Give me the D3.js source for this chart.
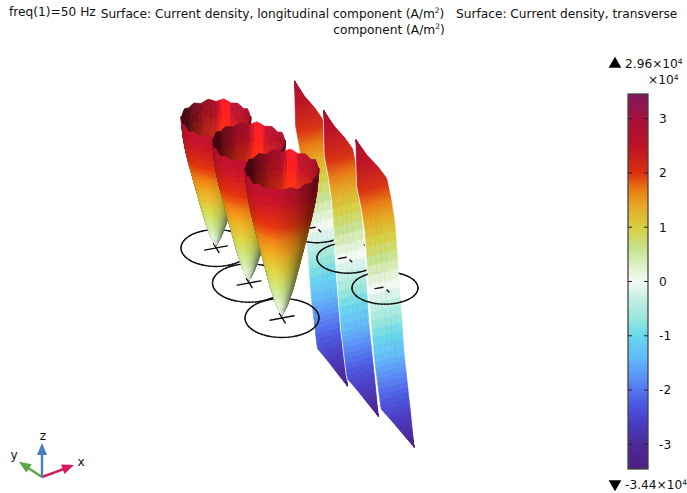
<!DOCTYPE html>
<html><head><meta charset="utf-8">
<script src="https://cdn.jsdelivr.net/npm/d3@7"></script>
<style>html,body{margin:0;background:#fff}svg{display:block}text{font-family:"DejaVu Sans";fill:#111;white-space:pre}</style>
</head><body><svg id="c" width="687" height="493"></svg>
<script>
// ---- values ----
const titleLeft = "freq(1)=50 Hz";
const colorValues = [3.44,3.0,2.5,2.0,1.7,1.4,1.0,0.6,0.25,0,-0.3,-0.7,-1.0,-1.4,-1.8,-2.2,-2.6,-3.0,-3.44];
const colorHexes = ["#7d1a5c","#a5103c","#bb1225","#d9300f","#e87a14","#e6a822","#d6cf42","#c6e38e","#e0f2d0","#f4f9f4","#c8efe4","#96e6dc","#68d8ec","#62bcf8","#5a8ef6","#4c5ee6","#483cc4","#4b2a98","#4d2080"];
const barTicks = [3,2,1,0,-1,-2,-3];
const maxLabel = "2.96×10", minLabel = "-3.44×10";
const wireKind  = ["cone","cone","cone","sheet","sheet","sheet"];
const wireAcross= [0,0,0,0.906,0.927,0.993];
const wireDepth = [2,1,0,1.769,0.893,-0.022];
const wireSize  = [35,36.5,37,30,31,33];
const wireRise  = [0.875,0.95,1,1,1,1];
const sheetShift= [0,0,0,4,3,0];
const coneRadius= [0,0.15,0.3,0.45,0.57,0.7,0.8,0.89,0.95,1];
const coneJ     = [0.05,0.25,0.55,0.93,1.25,1.6,1.87,2.15,2.4,2.74];
const rimRipple = [.05,-.05,.06,-.04,.04,-.06,.05,-.03,.06,-.05,.03,-.06,.06,-.04,.05,-.05,.06,-.03,.04,-.06,.05,-.05,.06,-.04,.03,-.05,.06,-.05];
const sheetU    = [-1,-0.8,-0.6,-0.35,-0.15,0,0.17,0.3,0.45,0.6,0.8,1];
const sheetJ    = [-3.15,-2.93,-2.70,-2.43,-1.45,-0.28,1.21,1.70,2.11,2.33,2.56,2.87];
const chordU    = [-1,-0.35,0,0.45,1];
const chordSpan = [0,0.94,1,0.98,0];
const sheetStreak=[1,.99,1.005,.98,1.005,.975,1.005,.985,1.005,1,1,.995];
const axisLabels = ["x","y","z"];
const axisColors = ["#d81b60","#5aa845","#4a80c0"];
const axisX = [0.97,-0.7,0], axisY = [-0.36,-0.46,-1];

// ---- scales ----
const svg = d3.select("#c");
const acrossX=d3.scaleLinear([0,1],[0,103]), depthX=d3.scaleLinear([0,1],[0,-33]);
const acrossY=d3.scaleLinear([0,1],[0,-31]), depthY=d3.scaleLinear([0,1],[0,-35]);
const originX=282, originY=318;
const sinE=0.52, cosE=0.855;
const coneProfile=d3.scaleLinear(coneRadius,coneJ);
const sheetProfile=d3.scaleLinear(sheetU,sheetJ);
const chordOf=d3.scaleLinear(chordU,chordSpan);
const colorOf=d3.scaleLinear(colorValues,colorHexes).clamp(true);
const coneHeight=54, sheetHeight=47, sheetLift=1.25;
const L=(()=>{const v=[-.45,-.1,.85],n=Math.hypot(...v);return v.map(d=>d/n)})();
const H=(()=>{const v=[L[0],L[1],L[2]+1],n=Math.hypot(...v);return v.map(d=>d/n)})();
const scene=svg.append("g");

function shadeColor(J,V,inner){
  const a=V[1].map((d,i)=>d-V[0][i]), b=V[3].map((d,i)=>d-V[0][i]);
  let n=[a[1]*b[2]-a[2]*b[1],a[2]*b[0]-a[0]*b[2],a[0]*b[1]-a[1]*b[0]];
  const m=Math.hypot(...n)||1; n=n.map(d=>d/m); if(n[2]<0) n=n.map(d=>-d);
  const dl=Math.max(0,n[0]*L[0]+n[1]*L[1]+n[2]*L[2]);
  const dh=Math.max(0,n[0]*H[0]+n[1]*H[1]+n[2]*H[2]);
  const s=inner?.36+.72*dl:.55+.62*dl;
  const sp=inner?Math.exp(-Math.pow((n[0]+.28)/.13,2))*85:Math.pow(dh,24)*14;
  const c=d3.rgb(colorOf(J));
  return d3.rgb(c.r*s+sp,c.g*s+sp*.12,c.b*s-sp*.12).formatRgb();
}
function pathOf(V){return "M"+V.map(v=>v[0].toFixed(2)+","+(-v[1]).toFixed(2)).join("L")+"Z";}

const wires=wireKind.map((kind,i)=>({kind,i,
  cx:originX+acrossX(wireAcross[i])+depthX(wireDepth[i]),
  cy:originY+acrossY(wireAcross[i])+depthY(wireDepth[i]),
  size:wireSize[i]})).sort((p,q)=>p.cy-q.cy);

function view(sx,sy,f,zpx){ // screen pos + forward + lifted height => view coordinates
  return [sx,-sy,sinE*(zpx/cosE)+cosE*f];
}
wires.forEach(w=>{
  const g=scene.append("g"), prims=[];
  const rx=w.size, ry=w.size*(w.kind==="cone"?0.527:0.49);
  // ring
  const nR=64;
  d3.range(nR).forEach(k=>{
    const t0=k/nR*2*Math.PI,t1=(k+1)/nR*2*Math.PI;
    const depth=cosE*(rx*Math.sin((t0+t1)/2));
    prims.push({depth:depth,line:[[w.cx+rx*Math.cos(t0),w.cy+ry*Math.sin(t0)],[w.cx+rx*Math.cos(t1),w.cy+ry*Math.sin(t1)]]});
  });
  if(w.kind==="cone"){
    const s=w.size/37, rise=wireRise[w.i];
    const P=(r,th)=>{
      const idx=((th/(2*Math.PI))*rimRipple.length+rimRipple.length)%rimRipple.length;
      const a=Math.floor(idx),fr=idx-a;
      const rip=(rimRipple[a]*(1-fr)+rimRipple[(a+1)%rimRipple.length]*fr)*Math.max(0,(r-.85)/.15)*.6;
      const J=coneProfile(r)+rip;
      const zpx=J*coneHeight*rise, f=rx*r*Math.sin(th);
      return {J,v:view(w.cx+rx*r*Math.cos(th),w.cy+ry*r*Math.sin(th)-zpx,f,zpx)};
    };
    const radii=d3.range(0,1.0001,1/40), nA=84;
    radii.slice(0,-1).forEach((r,ri)=>d3.range(nA).forEach(k=>{
      const t0=k/nA*2*Math.PI,t1=(k+1)/nA*2*Math.PI,r1=radii[ri+1];
      const C=[P(r,t0),P(r1,t0),P(r1,t1),P(r,t1)];
      const V=C.map(d=>d.v), J=d3.mean(C,d=>d.J);
      prims.push({depth:d3.mean(V,d=>d[2]),d:pathOf(V),col:shadeColor(J,V,Math.sin((t0+t1)/2)<0)});
    }));
    // cross at the centre
    const bx=12*s,by=-2.2*s;
    prims.push({depth:-1,line:[[w.cx-bx,w.cy-by],[w.cx+bx,w.cy+by]]});
    prims.push({depth:-1,line:[[w.cx-2.6*s,w.cy-4.5*s],[w.cx+3.2*s,w.cy+4.8*s]]});
  } else {
    const s=w.size/33, cx=w.cx+sheetShift[w.i];
    const P=(u,v)=>{ // u across the conductor, v along a chord
      const chord=chordOf(u);
      const J=sheetProfile(u), zpx=J*sheetHeight+sheetLift;
      const gx=-29*s*u+15*s*v*chord, gy=-12*s*u-4*s*v*chord;
      return {J,v:view(cx+gx,w.cy+gy-zpx,gy/sinE*0.5,zpx)};
    };
    const us=d3.range(-1,1.0001,1/45), nV=sheetStreak.length;
    // white rim behind the sheet
    const outline=[...us.map(u=>P(u,-1)),...us.slice().reverse().map(u=>P(u,1))].map(p=>p.v);
    g.append("path").attr("d",pathOf(outline)).attr("fill","#fff").attr("stroke","#fff").attr("stroke-width",2.2);
    us.slice(0,-1).forEach((u,ui)=>d3.range(nV).forEach(k=>{
      const v0=-1+2*k/nV,v1=-1+2*(k+1)/nV,u1=us[ui+1];
      const C=[P(u,v0),P(u1,v0),P(u1,v1),P(u,v1)];
      const V=C.map(d=>d.v),J=d3.mean(C,d=>d.J);
      const c=d3.rgb(colorOf(J)), q=Math.abs(J)<1.6?sheetStreak[(k+Math.floor(ui/4))%nV]:1;
      prims.push({depth:d3.mean(V,d=>d[2]),d:pathOf(V),col:d3.rgb(c.r*q,c.g*q,c.b*q).formatRgb()});
    }));
    prims.push({depth:1e6,line:[[w.cx-10*s,w.cy+.6*s],[w.cx-2*s,w.cy-.8*s]]});
    prims.push({depth:1e6,line:[[w.cx+2*s,w.cy+2*s],[w.cx+4*s,w.cy+4*s]]});
  }
  prims.sort((a,b)=>a.depth-b.depth);
  g.selectAll("path.m").data(prims).join("path").attr("class","m")
    .attr("d",p=>p.line?d3.line()(p.line):p.d)
    .attr("fill",p=>p.line?"none":p.col)
    .attr("stroke",p=>p.line?"#111":p.col)
    .attr("stroke-width",p=>p.line?1.4:0.6)
    .attr("stroke-linecap","round").attr("stroke-linejoin","round");
});

// ---- colour bar ----
const barY=d3.scaleLinear([3.454,-3.454],[94,469]);
const barX=628, barW=20, fs=12.2;
const grad=svg.append("defs").append("linearGradient").attr("id","bar").attr("x1",0).attr("x2",0).attr("y1",0).attr("y2",1);
colorValues.forEach((v,i)=>grad.append("stop").attr("offset",(barY(v)-94)/375).attr("stop-color",colorHexes[i]));
svg.append("rect").attr("x",barX).attr("y",94).attr("width",barW).attr("height",375).attr("fill","url(#bar)").attr("stroke","#444").attr("stroke-width",1.3);
const ax=svg.append("g").attr("transform",`translate(${barX+barW},0)`)
  .call(d3.axisRight(barY).tickValues(barTicks).tickSize(0).tickPadding(11).tickFormat(String));
ax.select(".domain").remove();
ax.selectAll("text").attr("font-size",fs).attr("font-family","DejaVu Sans").attr("fill","#111");
barTicks.forEach(t=>{
  [[barX,barX+4],[barX+barW-4,barX+barW]].forEach(x=>svg.append("line").attr("x1",x[0]).attr("x2",x[1]).attr("y1",barY(t)).attr("y2",barY(t)).attr("stroke","#222").attr("stroke-width",1));
});
function power(t,x,y,base){
  const e=svg.append("text").attr("x",x).attr("y",y).attr("font-size",fs);
  e.append("tspan").text(base);
  e.append("tspan").attr("font-size",7.5).attr("dy",-4.5).text(t);
}
power("4",625,68,maxLabel);
power("4",648,84,"×10");
power("4",625,489,minLabel);
svg.append("path").attr("d",d3.symbol(d3.symbolTriangle,70)()).attr("transform","translate(615,64)").attr("fill","#000");
svg.append("path").attr("d",d3.symbol(d3.symbolTriangle,70)()).attr("transform","translate(615,484) rotate(180)").attr("fill","#000");

// ---- titles ----
svg.append("text").attr("x",9).attr("y",15.5).attr("font-size",fs).text(titleLeft);
function titleLine(y,parts){
  const e=svg.append("text").attr("x",389).attr("y",y).attr("font-size",fs).attr("text-anchor","middle");
  parts.forEach(p=>{
    if(p[1]){e.append("tspan").attr("font-size",7.5).attr("dy",-4.5).text(p[0]);}
    else{const ts=e.append("tspan").text(p[0]); if(p[2]) ts.attr("dy",4.5);}
  });
}
titleLine(17.5,[["Surface: Current density, longitudinal component (A/m"],["2",1],[")   Surface: Current density, transverse",0,1]]);
titleLine(33.5,[["component (A/m"],["2",1],[")",0,1]]);

// ---- orientation triad ----
const triX=42, triY=477, triLen=d3.scaleLinear([0,1],[0,33]);
const tri=svg.append("g");
const zLen=1.03;
[1,0,2].forEach(i=>{
  const lenScale=i===2?zLen:1;
  const x=triX+triLen(axisX[i]), y=triY+triLen(axisY[i])*lenScale;
  const ang=Math.atan2(y-triY,x-triX), hl=12, hw=5;
  tri.append("line").attr("x1",triX).attr("y1",triY).attr("x2",x-Math.cos(ang)*hl*.7).attr("y2",y-Math.sin(ang)*hl*.7).attr("stroke",axisColors[i]).attr("stroke-width",2.4);
  const p=[[x,y],[x-Math.cos(ang)*hl-Math.sin(ang)*hw,y-Math.sin(ang)*hl+Math.cos(ang)*hw],[x-Math.cos(ang)*hl+Math.sin(ang)*hw,y-Math.sin(ang)*hl-Math.cos(ang)*hw]];
  tri.append("polygon").attr("points",p.map(d=>d.join(",")).join(" ")).attr("fill",axisColors[i]);
});
const lx=[81,14,43], ly=[466,459,440];
axisLabels.forEach((t,i)=>svg.append("text").attr("x",lx[i]).attr("y",ly[i]).attr("font-size",fs).attr("text-anchor","middle").text(t));
</script></body></html>
